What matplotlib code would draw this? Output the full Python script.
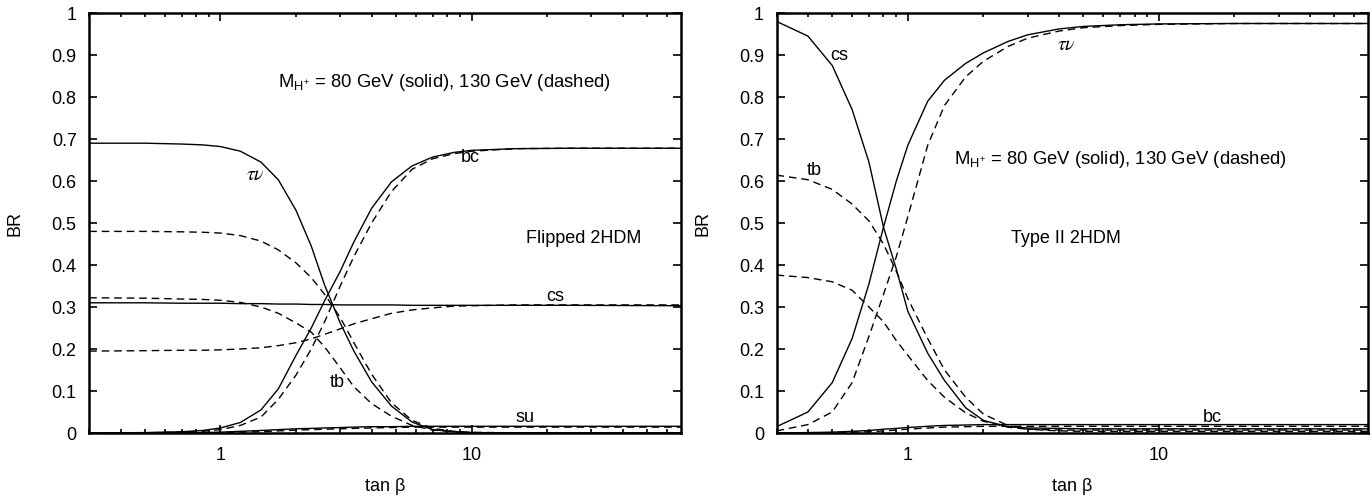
import matplotlib
matplotlib.use("Agg")
import matplotlib.pyplot as plt
from matplotlib.ticker import FixedLocator, LogLocator, NullFormatter, FuncFormatter

plt.rcParams['font.family'] = ['Liberation Sans', 'DejaVu Sans']
plt.rcParams['mathtext.fontset'] = 'custom'
plt.rcParams['mathtext.rm'] = 'Liberation Sans'
plt.rcParams['mathtext.it'] = 'Liberation Sans:italic'

# ---- left panel: Flipped 2HDM ----
tb_left = [0.3, 0.5, 0.7, 0.85, 1.0, 1.2, 1.45, 1.7, 2.0, 2.3, 2.6, 3.0, 3.4, 4.0, 4.8, 5.8, 7.0, 8.5, 10, 15, 25, 70]

taunu_80_left = [0.690, 0.690, 0.688, 0.686, 0.682, 0.671, 0.645, 0.603, 0.530, 0.445, 0.352, 0.262, 0.195, 0.122, 0.064, 0.026, 0.008, 0.003, 0.001, 0.0003, 0.0001, 0.0]
taunu_130_left = [0.480, 0.480, 0.479, 0.478, 0.476, 0.470, 0.457, 0.436, 0.405, 0.370, 0.330, 0.275, 0.215, 0.140, 0.072, 0.030, 0.011, 0.004, 0.0015, 0.0005, 0.0002, 0.0]
tb_130_left = [0.322, 0.321, 0.319, 0.318, 0.316, 0.311, 0.300, 0.285, 0.262, 0.240, 0.205, 0.155, 0.110, 0.070, 0.040, 0.018, 0.007, 0.003, 0.001, 0.0003, 0.0001, 0.0]
cs_80_left = [0.310, 0.310, 0.309, 0.309, 0.309, 0.308, 0.308, 0.307, 0.307, 0.306, 0.306, 0.305, 0.305, 0.305, 0.305, 0.304, 0.304, 0.304, 0.304, 0.304, 0.304, 0.303]
cs_130_left = [0.195, 0.196, 0.197, 0.197, 0.198, 0.200, 0.203, 0.208, 0.215, 0.224, 0.235, 0.248, 0.260, 0.272, 0.285, 0.293, 0.298, 0.302, 0.303, 0.305, 0.305, 0.305]
bc_80_left = [0.0, 0.001, 0.003, 0.006, 0.012, 0.025, 0.055, 0.105, 0.185, 0.250, 0.315, 0.385, 0.455, 0.535, 0.598, 0.636, 0.657, 0.668, 0.673, 0.677, 0.678, 0.678]
bc_130_left = [0.0, 0.0005, 0.002, 0.004, 0.008, 0.018, 0.038, 0.080, 0.138, 0.200, 0.265, 0.350, 0.420, 0.500, 0.575, 0.628, 0.653, 0.665, 0.671, 0.677, 0.678, 0.678]
su_80_left = [0.0, 0.0, 0.0005, 0.001, 0.002, 0.004, 0.006, 0.008, 0.010, 0.011, 0.012, 0.013, 0.014, 0.015, 0.015, 0.016, 0.016, 0.016, 0.016, 0.016, 0.016, 0.016]
su_130_left = [0.0, 0.0, 0.0002, 0.0005, 0.001, 0.002, 0.003, 0.005, 0.007, 0.008, 0.009, 0.010, 0.011, 0.012, 0.013, 0.014, 0.014, 0.014, 0.014, 0.014, 0.014, 0.014]

# ---- right panel: Type II 2HDM ----
tb_right = [0.3, 0.4, 0.5, 0.6, 0.7, 0.8, 0.9, 1.0, 1.2, 1.4, 1.7, 2.0, 2.5, 3.0, 4.0, 5.0, 7.0, 10, 20, 40, 70]

taunu_80_right = [0.015, 0.050, 0.120, 0.225, 0.355, 0.490, 0.600, 0.685, 0.790, 0.840, 0.880, 0.905, 0.932, 0.948, 0.962, 0.968, 0.972, 0.974, 0.975, 0.975, 0.975]
taunu_130_right = [0.005, 0.020, 0.050, 0.120, 0.230, 0.330, 0.420, 0.515, 0.685, 0.780, 0.848, 0.885, 0.920, 0.940, 0.957, 0.965, 0.970, 0.973, 0.975, 0.975, 0.975]
cs_80_right = [0.980, 0.945, 0.875, 0.770, 0.645, 0.490, 0.390, 0.290, 0.190, 0.125, 0.060, 0.030, 0.015, 0.012, 0.011, 0.010, 0.010, 0.010, 0.010, 0.010, 0.010]
tb_130_right = [0.614, 0.603, 0.580, 0.545, 0.505, 0.450, 0.385, 0.320, 0.225, 0.150, 0.085, 0.045, 0.018, 0.009, 0.005, 0.004, 0.004, 0.004, 0.004, 0.004, 0.004]
cs_130_right = [0.376, 0.370, 0.360, 0.340, 0.300, 0.265, 0.220, 0.185, 0.125, 0.085, 0.048, 0.028, 0.014, 0.009, 0.007, 0.007, 0.007, 0.007, 0.007, 0.007, 0.007]
bc_80_right = [0.0, 0.001, 0.002, 0.004, 0.006, 0.009, 0.011, 0.013, 0.016, 0.018, 0.019, 0.020, 0.020, 0.020, 0.020, 0.020, 0.020, 0.020, 0.020, 0.020, 0.020]
bc_130_right = [0.0, 0.0005, 0.001, 0.002, 0.003, 0.005, 0.007, 0.009, 0.012, 0.014, 0.015, 0.016, 0.016, 0.016, 0.016, 0.016, 0.016, 0.016, 0.016, 0.016, 0.016]

y_ticks = [0, 0.1, 0.2, 0.3, 0.4, 0.5, 0.6, 0.7, 0.8, 0.9, 1.0]
mass_text = r'M$_{\mathrm{H}^{+}}$ = 80 GeV (solid), 130 GeV (dashed)'

DASH = (0, (5.5, 3.5))
fs = 13


def style_axes(ax):
    ax.set_xscale('log')
    ax.set_xlim(0.3, 68)
    ax.set_ylim(0, 1)
    ax.xaxis.set_major_locator(FixedLocator([1, 10]))
    ax.xaxis.set_minor_locator(LogLocator(base=10, subs=range(2, 10)))
    ax.xaxis.set_minor_formatter(NullFormatter())
    ax.xaxis.set_major_formatter(FuncFormatter(lambda v, p: '%g' % v))
    ax.set_yticks(y_ticks)
    ax.yaxis.set_major_formatter(FuncFormatter(lambda v, p: '%g' % v))
    ax.tick_params(which='both', direction='in', top=True, right=True,
                   labelsize=fs, width=1.2, colors='black')
    ax.tick_params(which='major', length=6)
    ax.tick_params(axis='x', which='major', pad=10)
    ax.tick_params(axis='y', which='major', pad=9)
    ax.tick_params(which='minor', length=3)
    for s in ax.spines.values():
        s.set_linewidth(1.8)
    ax.set_xlabel(r'tan $\mathrm{\beta}$', fontsize=fs, labelpad=9)
    ax.set_ylabel('BR', fontsize=fs, labelpad=20)


fig = plt.figure(figsize=(13.72, 5.0), dpi=100)
ax1 = fig.add_axes([0.065, 0.134, 0.431, 0.840])
ax2 = fig.add_axes([0.566, 0.134, 0.431, 0.840])

lw = 1.0
ax1.plot(tb_left, taunu_80_left, 'k-', lw=lw)
ax1.plot(tb_left, cs_80_left, 'k-', lw=lw)
ax1.plot(tb_left, bc_80_left, 'k-', lw=lw)
ax1.plot(tb_left, su_80_left, 'k-', lw=lw)
ax1.plot(tb_left, taunu_130_left, 'k', ls=DASH, lw=lw)
ax1.plot(tb_left, tb_130_left, 'k', ls=DASH, lw=lw)
ax1.plot(tb_left, cs_130_left, 'k', ls=DASH, lw=lw)
ax1.plot(tb_left, bc_130_left, 'k', ls=DASH, lw=lw)
ax1.plot(tb_left, su_130_left, 'k', ls=DASH, lw=lw)

ax2.plot(tb_right, taunu_80_right, 'k-', lw=lw)
ax2.plot(tb_right, cs_80_right, 'k-', lw=lw)
ax2.plot(tb_right, bc_80_right, 'k-', lw=lw)
ax2.plot(tb_right, taunu_130_right, 'k', ls=DASH, lw=lw)
ax2.plot(tb_right, tb_130_right, 'k', ls=DASH, lw=lw)
ax2.plot(tb_right, cs_130_right, 'k', ls=DASH, lw=lw)
ax2.plot(tb_right, bc_130_right, 'k', ls=DASH, lw=lw)

style_axes(ax1)
style_axes(ax2)

ax1.text(1.69, 0.835, mass_text, fontsize=13.3, va='center')
ax1.text(28, 0.464, 'Flipped 2HDM', fontsize=fs, ha='center', va='center')
ax1.text(1.38, 0.614, r'$\tau\nu$', ha='center', va='center', fontsize=14,
         math_fontfamily='stix')
ax1.text(9.9, 0.655, 'bc', fontsize=fs, ha='center', va='center')
ax1.text(21.5, 0.325, 'cs', fontsize=fs, ha='center', va='center')
ax1.text(2.92, 0.12, 'tb', fontsize=fs, ha='center', va='center')
ax1.text(16.4, 0.036, 'su', fontsize=fs, ha='center', va='center')

ax2.text(1.53, 0.65, mass_text, fontsize=13.3, va='center')
ax2.text(4.25, 0.464, 'Type II 2HDM', fontsize=fs, ha='center', va='center')
ax2.text(0.535, 0.90, 'cs', fontsize=fs, ha='center', va='center')
ax2.text(0.425, 0.626, 'tb', fontsize=fs, ha='center', va='center')
ax2.text(4.3, 0.922, r'$\tau\nu$', ha='center', va='center', fontsize=14,
         math_fontfamily='stix')
ax2.text(16.3, 0.036, 'bc', fontsize=fs, ha='center', va='center')

fig.savefig('out.png', dpi=100)
